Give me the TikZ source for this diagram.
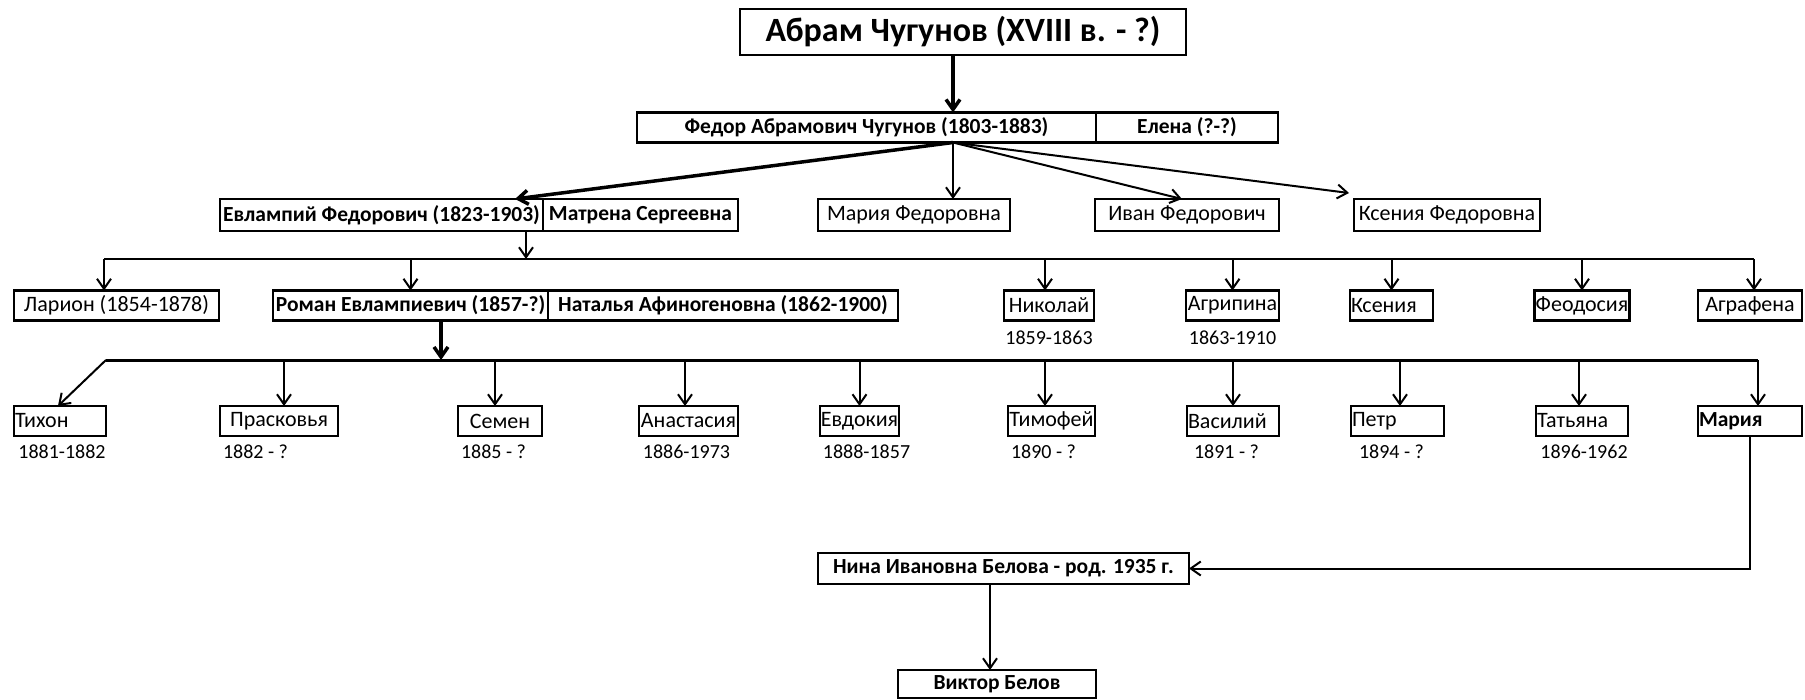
\documentclass[tikz,border=0pt]{standalone}
\usepackage{fontspec}
\setmainfont{Carlito}
\usetikzlibrary{arrows.meta,positioning,calc}

\begin{document}
\begin{tikzpicture}[x=1pt,y=-1pt,>={Straight Barb[length=10pt,width=14pt]},line width=2pt,font=\fontsize{22}{26}\selectfont]
\tikzstyle{b}=[draw,line width=2.6pt,outer sep=0pt,inner xsep=1pt,inner ysep=3pt,minimum height=30pt]
\tikzstyle{bb}=[b,font=\fontsize{21.5}{26}\selectfont\bfseries]
\tikzstyle{lb}=[b,align=left]
\tikzstyle{d}=[font=\fontsize{20}{24}\selectfont,inner sep=2pt]
\useasboundingbox (0,0) rectangle (1805,699);
% founder
\node[b,minimum width=446pt,minimum height=46pt,font=\fontsize{34}{40}\selectfont\bfseries] (abram) at (963,32) {Абрам Чугунов (XVIII в. - ?)};
\node[bb,minimum width=459pt] (fedor) at (866.5,127.5) {Федор Абрамович Чугунов (1803-1883)};
\node[bb,minimum width=182pt,right=0pt of fedor] (elena) {Елена (?-?)};
\coordinate (f0) at ($(fedor.south)+(86.5,0)$);
\draw[->,line width=3.5pt] (abram.south -| f0) -- (fedor.north -| f0);
% children of Fedor
\node[bb,minimum width=323pt,minimum height=32pt] (evl) at (381.5,215) {Евлампий Федорович (1823-1903)};
\node[bb,minimum width=195pt,minimum height=32pt,right=0pt of evl] (matr) {Матрена Сергеевна};
\node[b,minimum width=192pt,minimum height=32pt] (mariaF) at (914,215) {Мария Федоровна};
\node[b,minimum width=184pt,minimum height=32pt] (ivan) at (1187,215) {Иван Федорович};
\node[b,minimum width=186pt,minimum height=32pt] (kseniaF) at (1447,215) {Ксения Федоровна};
\draw[->,line width=3.5pt] (f0) -- ($(evl.north east)+(-28,0)$);
\draw[->] (f0) -- (f0 |- mariaF.north);
\draw[->] (f0) -- ($(ivan.north)+(-5,0)$);
\draw[->] (f0) -- ($(kseniaF.north west)+(-5,-6)$);
% children of Evlampiy
\coordinate (bus1) at (526,259);
\draw[->] (evl.south -| bus1) -- (bus1);
\node[b,minimum width=205pt] (lar) at (116.5,305.5) {Ларион (1854-1878)};
\node[bb,minimum width=275pt] (roman) at (410.5,305.5) {Роман Евлампиевич (1857-?)};
\node[bb,minimum width=350pt,right=0pt of roman] (natal) {Наталья Афиногеновна (1862-1900)};
\node[b,minimum width=90pt] (nik) at (1049,305.5) {Николай};
\node[b,minimum width=93pt] (agr) at (1232.5,305.5) {Агрипина};
\node[lb,text width=81pt] (ksen) at (1391.5,305.5) {Ксения};
\node[b,minimum width=92pt] (feod) at (1582,305.5) {Феодосия};
\node[b,minimum width=104pt] (agraf) at (1750,305.5) {Аграфена};
\draw ($(lar.north |- bus1)+(-12.5,0)$) -- ($(agraf.north |- bus1)+(4,0)$);
\foreach \n/\dx in {lar/-12.5,roman/0,nik/-4,agr/0,ksen/0,feod/0,agraf/4}
  \draw[->] ($(\n.north |- bus1)+(\dx,0)$) -- ($(\n.north)+(\dx,0)$);
\node[d] at ($(nik.south)+(0,17)$) {1859-1863};
\node[d] at ($(agr.south)+(0,17)$) {1863-1910};
% children of Roman
\coordinate (bus2) at (441,360);
\draw[->,line width=3.5pt] (roman.south -| bus2) -- (bus2);
\node[lb,text width=90pt] (tix) at (60,421) {Тихон};
\node[b,minimum width=118pt] (pras) at (279,421) {Прасковья};
\node[b,minimum width=84pt] (sem) at (500,421) {Семен};
\node[b,minimum width=99pt] (anast) at (688.5,421) {Анастасия};
\node[b,minimum width=79pt] (evd) at (859.5,421) {Евдокия};
\node[b,minimum width=87pt] (tim) at (1051.5,421) {Тимофей};
\node[lb,text width=90pt] (vas) at (1233,421) {Василий};
\node[lb,text width=91pt] (petr) at (1397.5,421) {Петр};
\node[lb,text width=90pt] (tat) at (1582,421) {Татьяна};
\node[lb,text width=102pt,font=\fontsize{21.5}{26}\selectfont\bfseries] (mar) at (1750,421) {Мария};
\draw[line width=3pt] (tix.east |- bus2) -- ($(mar.north |- bus2)+(8,0)$);
\draw[->] (tix.east |- bus2) -- ($(tix.north)+(-2,0)$);
\foreach \n/\dx in {pras/5,sem/-5,anast/-3.5,evd/0,tim/-6.5,vas/0,petr/2.5,tat/-3,mar/8}
  \draw[->] ($(\n.north |- bus2)+(\dx,0)$) -- ($(\n.north)+(\dx,0)$);
\node[d] at ($(tix.south)+(2,16)$) {1881-1882};
\node[d,anchor=west] at ($(pras.south west)+(0,16)$) {1882 - ?};
\node[d,anchor=west] at ($(sem.south west)+(0,16)$) {1885 - ?};
\node[d] at ($(anast.south)+(-2,16)$) {1886-1973};
\node[d] at ($(evd.south)+(7,16)$) {1888-1857};
\node[d,anchor=west] at ($(tim.south west)+(0,16)$) {1890 - ?};
\node[d,anchor=west] at ($(vas.south west)+(4,16)$) {1891 - ?};
\node[d,anchor=west] at ($(petr.south west)+(5,16)$) {1894 - ?};
\node[d] at ($(tat.south)+(2,16)$) {1896-1962};
% Maria's line
\node[bb,minimum width=371pt,minimum height=31pt] (nina) at (1003.5,568.5) {Нина Ивановна Белова - род. 1935 г.};
\node[bb,minimum width=198pt,minimum height=28pt] (viktor) at (997,684) {Виктор Белов};
\draw[->] (mar.south) |- (nina.east);
\draw[->] ($(nina.south)+(-13.5,0)$) -- ($(nina.south |- viktor.north)+(-13.5,0)$);
\end{tikzpicture}
\end{document}
